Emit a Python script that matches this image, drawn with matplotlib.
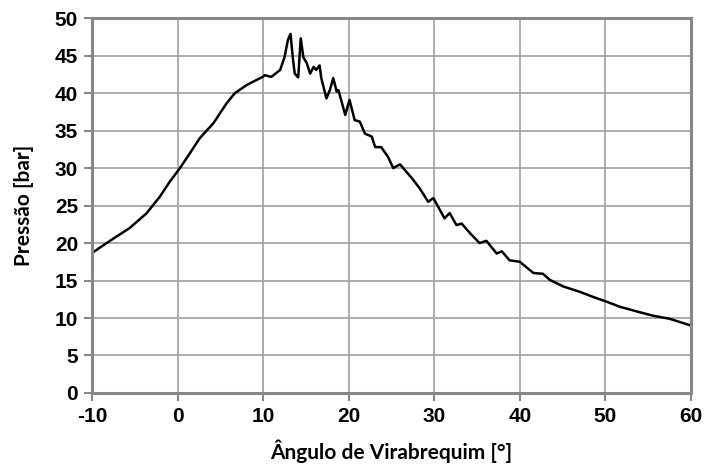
import matplotlib
matplotlib.use('Agg')
import matplotlib.pyplot as plt

plt.rcParams['axes.unicode_minus'] = False

# Crank angle [deg] and cylinder pressure [bar]
angle = [-10.0, -9.85, -7.5, -5.6, -3.6, -2.06, -0.9, 0.28, 1.45, 2.6, 4.2, 5.7, 6.7, 8.1,
         10.0, 10.2, 10.8, 11.0, 12.0, 12.5, 12.9, 13.2, 13.5, 13.7, 14.1, 14.4, 14.7, 15.1,
         15.5, 15.9, 16.2, 16.6, 16.8, 17.4, 17.8, 18.2, 18.6, 18.8, 19.6, 20.1, 20.7, 21.3,
         21.9, 22.7, 23.1, 23.8, 24.6, 25.2, 26.0, 26.6, 27.5, 28.3, 29.3, 29.9, 31.2, 31.8,
         32.6, 33.2, 34.2, 35.3, 36.1, 37.3, 37.9, 38.8, 40.0, 41.6, 42.7, 43.5, 45.1, 47.0,
         48.6, 50.1, 51.7, 53.6, 55.6, 57.5, 60.0]
pressure = [18.5, 18.8, 20.6, 22.0, 24.0, 26.2, 28.2, 30.0, 32.0, 34.0, 36.0, 38.6, 40.0, 41.1,
            42.2, 42.4, 42.2, 42.2, 43.1, 44.8, 47.1, 47.9, 44.4, 42.6, 42.1, 47.3, 44.8, 44.0,
            42.6, 43.5, 43.1, 43.7, 42.0, 39.3, 40.4, 42.0, 40.2, 40.4, 37.1, 39.1, 36.4, 36.2,
            34.6, 34.2, 32.8, 32.8, 31.5, 30.0, 30.5, 29.7, 28.5, 27.3, 25.5, 26.0, 23.3, 24.0,
            22.4, 22.6, 21.3, 20.0, 20.3, 18.6, 18.9, 17.7, 17.5, 16.0, 15.9, 15.1, 14.2, 13.5,
            12.8, 12.2, 11.5, 10.9, 10.3, 9.9, 9.0]

x_ticks = [-10, 0, 10, 20, 30, 40, 50, 60]
y_ticks = [0, 5, 10, 15, 20, 25, 30, 35, 40, 45, 50]

fig = plt.figure(figsize=(7.05, 4.66), dpi=100)
ax = fig.add_axes([0.1305, 0.1567, 0.8495, 0.8043])

ax.plot(angle, pressure, color='black', linewidth=1.8)

ax.set_xlim(-10, 60)
ax.set_ylim(0, 50)
ax.set_xticks(x_ticks)
ax.set_yticks(y_ticks)
ax.grid(True, color='#a0a0a0', linewidth=1.2)

for s in ax.spines.values():
    s.set_color('#888888')
    s.set_linewidth(2.2)

ax.tick_params(colors='#888888', length=6, width=1.5, labelcolor='black', pad=4)
for lab in ax.get_xticklabels() + ax.get_yticklabels():
    lab.set_fontfamily(['Liberation Sans Narrow', 'Liberation Sans', 'DejaVu Sans'])
    lab.set_fontweight('bold')
    lab.set_fontsize(15)

label_font = {'family': ['Lato', 'DejaVu Sans'], 'weight': 'bold', 'size': 15}
ax.set_xlabel('Ângulo de Virabrequim [°]', fontdict=label_font, labelpad=10)
ax.set_ylabel('Pressão [bar]', fontdict=label_font, labelpad=15)

fig.savefig('out.png', dpi=100)
